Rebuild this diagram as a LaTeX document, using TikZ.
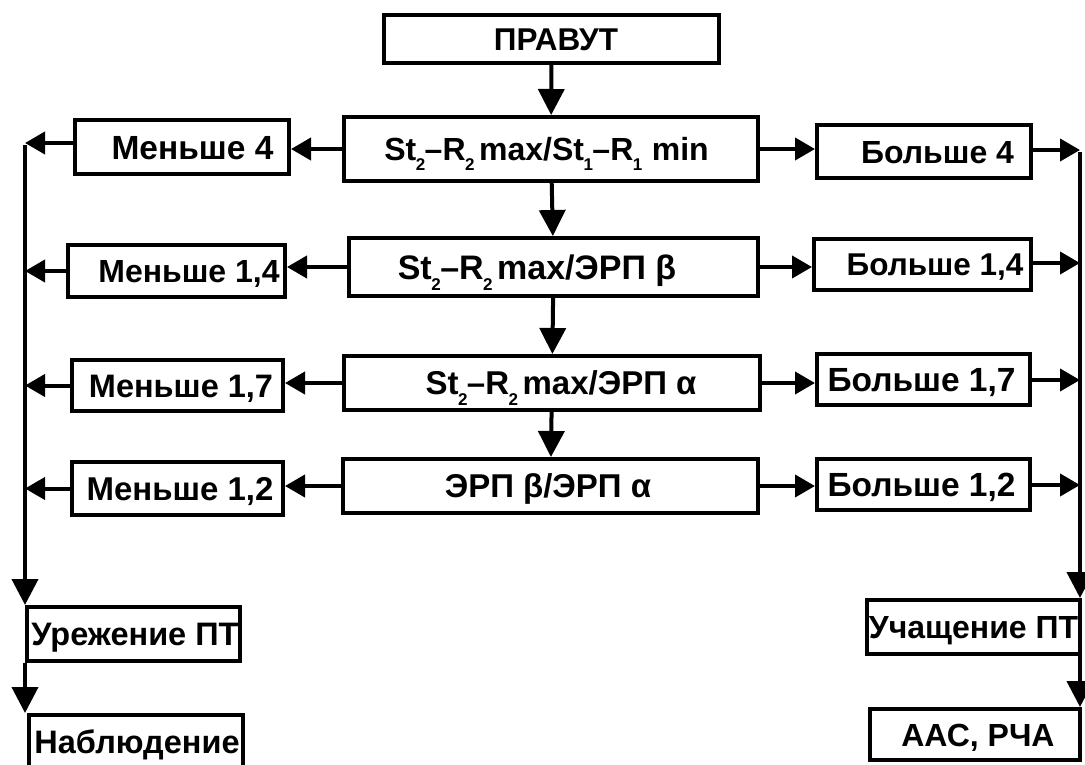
\documentclass[tikz,border=0pt]{standalone}
\usepackage{fontspec}
\setmainfont{Liberation Sans}
\usetikzlibrary{arrows.meta}
\newcommand\sbs[1]{\kern-0.5pt\raisebox{-0.32em}[0pt][0pt]{\fontsize{17}{17}\selectfont #1}\kern-0.5pt}
\newcommand\nsp{\hspace{5pt}}
\newcommand\shft[2]{\makebox[0pt]{\hspace*{#1}#2}}
\tikzset{
  fs/.code={\pgfmathsetmacro\myth{0.72*#1}\edef\mytmp{\noexpand\tikzset{font=\noexpand\fontsize{#1}{#1}\noexpand\selectfont\noexpand\bfseries, text height=\myth pt}}\mytmp},
  box/.style={draw, line width=4pt, inner sep=0pt, text depth=0pt, fs=34},
  arr/.style={line width=4pt, -{Triangle[length=20pt,width=22pt]}},
  varr/.style={line width=4pt, -{Triangle[length=26pt,width=26pt]}},
  ln/.style={line width=4pt},
}
\begin{document}
\begin{tikzpicture}[x=1pt,y=-1pt]
\useasboundingbox (0,0) rectangle (1085,764);
\begin{scope}
\clip (0,0) rectangle (1085,764);
% centre column
\node[box, fs=31.5, minimum width=335pt, minimum height=48pt] (prav) at (551.5,39) {\shft{9pt}{ПРАВУТ}};
\node[box, fs=32, minimum width=414pt, minimum height=64pt] (c1) at (551,149) {\shft{-9pt}{St\sbs{2}–R\sbs{2}\nsp max/St\sbs{1}–R\sbs{1}\hspace{10pt}min}};
\node[box, fs=34, minimum width=409pt, minimum height=58pt] (c2) at (553.5,267) {\shft{-33pt}{St\sbs{2}–R\sbs{2}\nsp max/ЭРП β}};
\node[box, fs=33, minimum width=416pt, minimum height=54pt] (c3) at (552,383) {\shft{18pt}{St\sbs{2}–R\sbs{2}\nsp max/ЭРП α}};
\node[box, fs=33, minimum width=415pt, minimum height=54pt] (c4) at (550.5,486) {\shft{-5pt}{ЭРП β/ЭРП α}};
% left column
\node[box, fs=33.5, minimum width=214pt, minimum height=54pt] (l1) at (182,147) {\shft{21pt}{Меньше 4}};
\node[box, fs=32, minimum width=217pt, minimum height=52pt] (l2) at (176.5,271) {\shft{25pt}{Меньше 1,4}};
\node[box, fs=32.5, minimum width=211pt, minimum height=51pt] (l3) at (177.5,385.5) {\shft{7pt}{Меньше 1,7}};
\node[box, fs=33, minimum width=211pt, minimum height=53pt] (l4) at (177.5,488.5) {\shft{5pt}{Меньше 1,2}};
% right column
\node[box, fs=32, minimum width=214pt, minimum height=53pt] (r1) at (924,151.5) {\shft{27pt}{Больше 4}};
\node[box, fs=31.5, minimum width=217pt, minimum height=51pt] (r2) at (922.5,264.5) {\shft{25pt}{Больше 1,4}};
\node[box, fs=33.5, minimum width=213pt, minimum height=51pt] (r3) at (923.5,379.5) {\shft{-4pt}{Больше 1,7}};
\node[box, fs=33.5, minimum width=213pt, minimum height=51pt] (r4) at (923.5,484.5) {\shft{-4pt}{Больше 1,2}};
% bottom
\node[box, fs=32.5, minimum width=213pt, minimum height=54pt] (u) at (133.5,634) {\shft{3pt}{Урежение ПТ}};
\node[box, fs=32.5, minimum width=214pt, minimum height=54pt] (n) at (136,742) {\shft{2pt}{Наблюдение}};
\node[box, fs=32, minimum width=213pt, minimum height=54pt] (uch) at (973.5,627) {\shft{0pt}{Учащение ПТ}};
\node[box, fs=32, minimum width=210pt, minimum height=51pt] (aas) at (975,734.5) {\shft{6pt}{ААС, РЧА}};
% collector points
\coordinate (lt) at (25,143);
\coordinate (la2) at (25,271);
\coordinate (la3) at (25,385.5);
\coordinate (la4) at (25,488.5);
\coordinate (rt) at (1080,150);
\coordinate (ra2) at (1080,263);
\coordinate (ra3) at (1080,380);
\coordinate (ra4) at (1080,485);
% centre arrows
\draw[varr] (prav) -- (c1);
\draw[varr] (c1) -- (c2);
\draw[varr] (c2) -- (c3);
\draw[varr] (c3) -- (c4);
% centre to sides
\draw[arr] (c1.west) -- (c1.west -| l1.east);
\draw[arr] (c2.west) -- (c2.west -| l2.east);
\draw[arr] (c3.west) -- (c3.west -| l3.east);
\draw[arr] (c4.west) -- (c4.west -| l4.east);
\draw[arr] (c1.east) -- (c1.east -| r1.west);
\draw[arr] (c2.east) -- (c2.east -| r2.west);
\draw[arr] (c3.east) -- (c3.east -| r3.west);
\draw[arr] (c4.east) -- (c4.east -| r4.west);
% sides to collectors
\draw[arr] (l1.west |- lt) -- (lt);
\draw[arr] (l2.west) -- (la2);
\draw[arr] (l3.west) -- (la3);
\draw[arr] (l4.west) -- (la4);
\draw[arr] (r1.east |- rt) -- (rt);
\draw[arr] (r2.east |- ra2) -- (ra2);
\draw[arr] (r3.east |- ra3) -- (ra3);
\draw[arr] (r4.east |- ra4) -- (ra4);
% collectors
\draw[ln] ([yshift=-2pt]lt) -- (la2);
\draw[varr] (la2) -- (la2 |- u.north);
\draw[ln] ([yshift=-2pt]rt) -- (ra2);
\draw[varr] (ra2) -- (ra2 |- uch.north);
\draw[varr] (la2 |- u.south) -- (la2 |- n.north);
\draw[varr] (ra2 |- uch.south) -- (ra2 |- aas.north);
\end{scope}
\end{tikzpicture}
\end{document}
